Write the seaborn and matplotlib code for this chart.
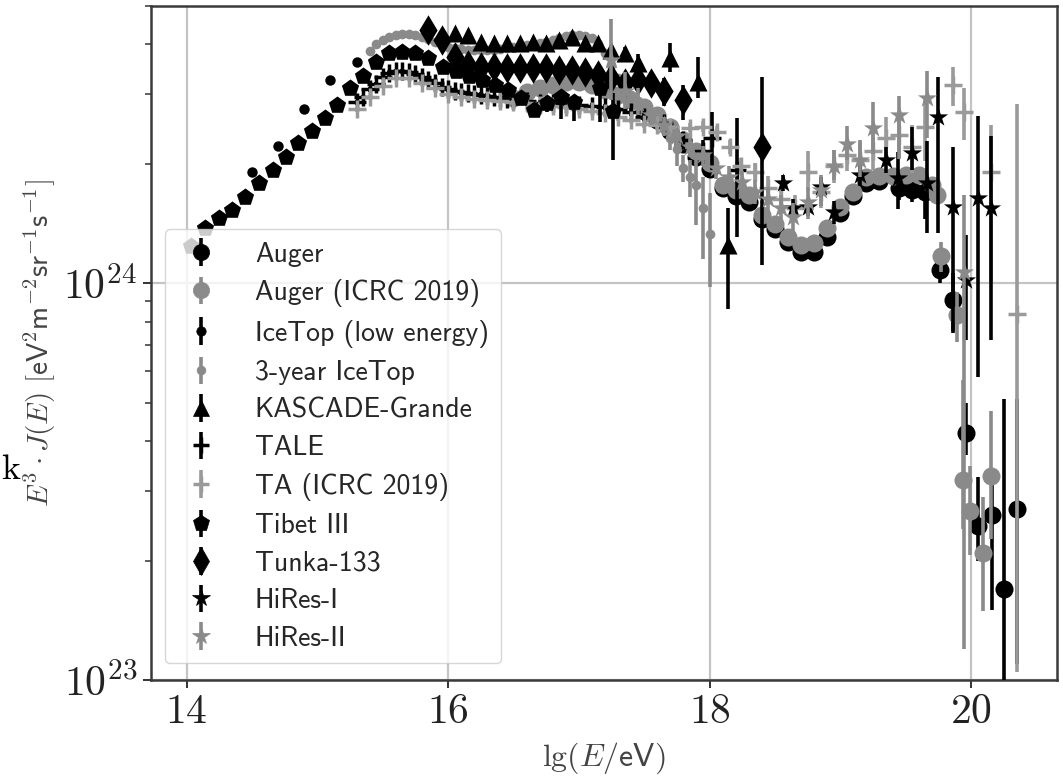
import numpy as np
import matplotlib
matplotlib.use("Agg")
import matplotlib.pyplot as plt
import seaborn as sns
import pandas as pd
from matplotlib.ticker import FixedLocator, FuncFormatter, NullFormatter, LogLocator

# ---------------- data (E^3 J in units of 1e24 eV^2 m^-2 sr^-1 s^-1) ----------------
auger_lg = [17.5, 17.6, 17.7, 17.8, 17.9, 18.0, 18.1, 18.2, 18.3, 18.4, 18.5, 18.6, 18.7, 18.8, 18.9,
            19.0, 19.1, 19.2, 19.3, 19.45, 19.55, 19.65, 19.76, 19.86, 19.96, 20.05, 20.16, 20.25, 20.35]
auger_val = [2.72, 2.58, 2.42, 2.24, 2.08, 1.94, 1.74, 1.66, 1.60, 1.45, 1.37, 1.27, 1.20, 1.20, 1.31,
             1.50, 1.66, 1.79, 1.81, 1.74, 1.72, 1.70, 1.08, 0.91, 0.42, 0.245, 0.26, 0.17, 0.27]
auger_lo = [0.04, 0.04, 0.04, 0.04, 0.04, 0.04, 0.04, 0.04, 0.04, 0.04, 0.04, 0.04, 0.04, 0.04, 0.04,
            0.05, 0.06, 0.07, 0.07, 0.12, 0.12, 0.25, 0.08, 0.16, 0.05, 0.045, 0.11, 0.10, 0.16]
auger_hi = [0.04, 0.04, 0.04, 0.04, 0.04, 0.04, 0.04, 0.04, 0.04, 0.04, 0.04, 0.04, 0.04, 0.04, 0.04,
            0.05, 0.06, 0.07, 0.07, 0.12, 0.12, 0.20, 0.10, 0.15, 0.08, 0.08, 0.05, 0.34, 0.24]

icrc_lg = [16.5, 16.6, 16.7, 16.8, 16.9, 17.0, 17.1, 17.2, 17.3, 17.4, 17.5, 17.6, 17.7, 17.8, 17.9,
           18.0, 18.1, 18.2, 18.3, 18.4, 18.5, 18.6, 18.7, 18.8, 18.9, 19.0, 19.1, 19.2, 19.3, 19.4,
           19.5, 19.6, 19.7, 19.74, 19.77, 19.89, 19.94, 19.99, 20.09, 20.15]
icrc_val = [2.93, 3.04, 3.11, 3.16, 3.22, 3.22, 3.16, 3.07, 2.99, 2.90, 2.79, 2.66, 2.48, 2.30, 2.15,
            2.01, 1.77, 1.72, 1.67, 1.49, 1.41, 1.31, 1.25, 1.26, 1.38, 1.56, 1.70, 1.85, 1.86, 1.86,
            1.88, 1.88, 1.77, 1.67, 1.17, 0.83, 0.32, 0.267, 0.209, 0.327]
icrc_lo = [0.03, 0.03, 0.03, 0.03, 0.03, 0.03, 0.03, 0.03, 0.03, 0.03, 0.03, 0.03, 0.03, 0.03, 0.03,
           0.03, 0.03, 0.03, 0.03, 0.03, 0.03, 0.03, 0.03, 0.03, 0.03, 0.03, 0.03, 0.04, 0.04, 0.04,
           0.05, 0.06, 0.07, 0.08, 0.10, 0.12, 0.08, 0.06, 0.06, 0.10]
icrc_hi = [0.03, 0.03, 0.03, 0.03, 0.03, 0.03, 0.03, 0.03, 0.03, 0.03, 0.03, 0.03, 0.03, 0.03, 0.03,
           0.03, 0.03, 0.03, 0.03, 0.03, 0.03, 0.03, 0.03, 0.03, 0.03, 0.03, 0.03, 0.04, 0.04, 0.04,
           0.05, 0.06, 0.07, 0.08, 0.10, 0.12, 0.25, 0.08, 0.08, 0.15]

icelow_lg = [14.5, 14.7, 14.9, 15.1, 15.3]
icelow_val = [1.91, 2.22, 2.75, 3.25, 3.61]
icelow_lo = [0.02, 0.02, 0.03, 0.03, 0.04]
icelow_hi = [0.02, 0.02, 0.03, 0.03, 0.04]

ice3_lg = [15.40, 15.45, 15.50, 15.55, 15.60, 15.65, 15.70, 15.75, 15.80, 15.85, 15.90, 15.95,
           16.00, 16.05, 16.10, 16.15, 16.20, 16.25, 16.30, 16.35, 16.40, 16.45, 16.50, 16.55,
           16.60, 16.65, 16.70, 16.75, 16.80, 16.85, 16.90, 16.95, 17.00, 17.05, 17.10, 17.15,
           17.20, 17.25, 17.30, 17.35, 17.40, 17.45, 17.50, 17.55, 17.60, 17.65, 17.70, 17.75,
           17.80, 17.85, 17.90, 17.95, 18.00]
ice3_val = [3.85, 4.00, 4.10, 4.18, 4.22, 4.25, 4.25, 4.22, 4.18, 4.12, 4.06, 4.00,
            3.95, 3.92, 3.90, 3.88, 3.88, 3.88, 3.88, 3.88, 3.90, 3.92, 3.94, 3.96,
            3.98, 4.00, 4.03, 4.06, 4.10, 4.15, 4.20, 4.22, 4.22, 4.20, 4.15, 4.02,
            3.80, 3.55, 3.30, 3.12, 2.98, 2.88, 2.78, 2.68, 2.58, 2.45, 2.32, 2.18,
            1.95, 1.85, 1.77, 1.55, 1.33]
ice3_lo = [0.03, 0.03, 0.03, 0.03, 0.03, 0.03, 0.03, 0.03, 0.03, 0.03, 0.03, 0.03,
           0.03, 0.03, 0.03, 0.03, 0.03, 0.03, 0.03, 0.03, 0.03, 0.03, 0.03, 0.03,
           0.03, 0.03, 0.03, 0.03, 0.03, 0.03, 0.04, 0.04, 0.04, 0.04, 0.05, 0.05,
           0.05, 0.05, 0.06, 0.06, 0.06, 0.07, 0.07, 0.08, 0.08, 0.10, 0.15, 0.20,
           0.15, 0.20, 0.37, 0.40, 0.35]
ice3_hi = [0.03, 0.03, 0.03, 0.03, 0.03, 0.03, 0.03, 0.03, 0.03, 0.03, 0.03, 0.03,
           0.03, 0.03, 0.03, 0.03, 0.03, 0.03, 0.03, 0.03, 0.03, 0.03, 0.03, 0.03,
           0.03, 0.03, 0.03, 0.03, 0.03, 0.03, 0.04, 0.04, 0.04, 0.04, 0.05, 0.05,
           0.05, 0.05, 0.06, 0.06, 0.06, 0.07, 0.07, 0.08, 0.08, 0.10, 0.15, 0.20,
           0.15, 0.20, 0.30, 0.30, 0.36]

kg_lg = [16.05, 16.15, 16.25, 16.35, 16.45, 16.55, 16.65, 16.75, 16.85, 16.95, 17.05, 17.15,
         17.25, 17.35, 17.45, 17.70, 17.91, 18.14]
kg_val = [4.27, 4.23, 4.06, 4.03, 4.03, 4.03, 4.06, 4.03, 4.10, 4.17, 4.03, 4.03,
          3.87, 3.80, 3.59, 3.69, 3.22, 1.25]
kg_lo = [0.05, 0.05, 0.05, 0.05, 0.05, 0.05, 0.05, 0.05, 0.06, 0.06, 0.08, 0.10,
         0.12, 0.15, 0.20, 0.28, 0.29, 0.39]
kg_hi = [0.05, 0.05, 0.05, 0.05, 0.05, 0.05, 0.05, 0.05, 0.06, 0.06, 0.08, 0.10,
         0.12, 0.15, 0.20, 0.34, 0.50, 0.30]

tale_lg = [15.30, 15.35, 15.40, 15.45, 15.50, 15.55, 15.60, 15.65, 15.70, 15.75, 15.80, 15.85,
           15.90, 15.95, 16.00, 16.05, 16.10, 16.15, 16.20, 16.25, 16.30, 16.35, 16.40, 16.45,
           16.50, 16.60, 16.70, 16.80, 16.90, 17.00, 17.10, 17.20, 17.30, 17.40, 17.50, 17.65,
           17.80, 17.95, 18.02, 18.21]
tale_val = [2.86, 2.95, 3.08, 3.18, 3.31, 3.38, 3.42, 3.42, 3.40, 3.36, 3.31, 3.25,
            3.20, 3.12, 3.08, 3.05, 3.03, 3.02, 3.00, 2.99, 2.97, 2.95, 2.93, 2.92,
            2.90, 2.88, 2.85, 2.85, 2.83, 2.82, 2.80, 2.78, 2.75, 2.70, 2.62, 2.54,
            2.30, 2.15, 2.33, 1.93]
tale_lo = [0.04, 0.04, 0.04, 0.04, 0.04, 0.04, 0.04, 0.04, 0.04, 0.04, 0.04, 0.04,
           0.04, 0.04, 0.04, 0.04, 0.04, 0.04, 0.04, 0.04, 0.04, 0.04, 0.04, 0.04,
           0.04, 0.04, 0.04, 0.04, 0.04, 0.05, 0.05, 0.05, 0.05, 0.06, 0.06, 0.07,
           0.10, 0.15, 0.40, 0.62]
tale_hi = [0.04, 0.04, 0.04, 0.04, 0.04, 0.04, 0.04, 0.04, 0.04, 0.04, 0.04, 0.04,
           0.04, 0.04, 0.04, 0.04, 0.04, 0.04, 0.04, 0.04, 0.04, 0.04, 0.04, 0.04,
           0.04, 0.04, 0.04, 0.04, 0.04, 0.05, 0.05, 0.05, 0.05, 0.06, 0.06, 0.07,
           0.10, 0.15, 0.37, 0.68]

ta_lg = [15.3, 15.4, 15.5, 15.6, 15.7, 15.8, 15.9, 16.0, 16.1, 16.2, 16.3, 16.4, 16.5, 16.6,
         16.7, 16.8, 16.9, 17.0, 17.1, 17.2, 17.3, 17.4, 17.5, 17.6, 17.7, 17.85, 17.95, 18.06,
         18.16, 18.24, 18.35, 18.45, 18.55, 18.65, 18.75, 18.85, 18.95, 19.05, 19.15, 19.25,
         19.35, 19.45, 19.55, 19.65, 19.86, 19.95, 20.15, 20.35]
ta_val = [2.75, 2.95, 3.15, 3.30, 3.30, 3.20, 3.10, 3.00, 2.95, 2.92, 2.90, 2.88, 2.86, 2.84,
          2.82, 2.80, 2.78, 2.75, 2.72, 2.68, 2.62, 2.58, 2.52, 2.50, 2.48, 2.47, 2.48, 2.41,
          2.21, 1.97, 1.91, 1.74, 1.63, 1.55, 1.91, 1.70, 1.97, 2.10, 2.05, 2.15,
          2.33, 2.37, 2.20, 2.48, 3.16, 2.70, 1.91, 0.835]
ta_lo = [0.04, 0.04, 0.04, 0.04, 0.04, 0.04, 0.04, 0.04, 0.04, 0.04, 0.04, 0.04, 0.04, 0.04,
         0.04, 0.04, 0.04, 0.04, 0.05, 0.05, 0.05, 0.05, 0.05, 0.06, 0.06, 0.07, 0.08, 0.08,
         0.09, 0.10, 0.10, 0.12, 0.12, 0.12, 0.20, 0.15, 0.18, 0.18, 0.20, 0.22,
         0.25, 0.30, 0.30, 0.45, 0.36, 0.40, 0.90, 0.73]
ta_hi = [0.04, 0.04, 0.04, 0.04, 0.04, 0.04, 0.04, 0.04, 0.04, 0.04, 0.04, 0.04, 0.04, 0.04,
         0.04, 0.04, 0.04, 0.04, 0.05, 0.05, 0.05, 0.05, 0.05, 0.06, 0.06, 0.07, 0.08, 0.08,
         0.09, 0.10, 0.10, 0.12, 0.12, 0.12, 0.25, 0.15, 0.20, 0.20, 0.22, 0.25,
         0.30, 0.30, 0.30, 0.45, 0.34, 0.40, 0.60, 2.00]

tibet_lg = [14.03, 14.14, 14.25, 14.35, 14.45, 14.55, 14.66, 14.76, 14.85, 14.96, 15.06, 15.15,
            15.25, 15.35, 15.45, 15.55, 15.65, 15.75, 15.85, 15.96, 16.06, 16.16, 16.26, 16.36,
            16.46, 16.56, 16.66, 16.76, 16.86, 16.96, 17.16, 17.26]
tibet_val = [1.24, 1.38, 1.46, 1.53, 1.65, 1.79, 1.93, 2.08, 2.26, 2.42, 2.61, 2.82,
             3.11, 3.33, 3.61, 3.81, 3.83, 3.81, 3.70, 3.51, 3.43, 3.33, 3.25, 3.16,
             3.07, 2.93, 2.74, 2.85, 2.95, 2.87, 3.10, 2.72]
tibet_lo = [0.02, 0.02, 0.02, 0.02, 0.02, 0.02, 0.02, 0.02, 0.02, 0.02, 0.03, 0.03,
            0.03, 0.03, 0.03, 0.03, 0.03, 0.03, 0.03, 0.04, 0.04, 0.04, 0.05, 0.05,
            0.06, 0.08, 0.10, 0.15, 0.35, 0.30, 0.55, 0.67]
tibet_hi = [0.02, 0.02, 0.02, 0.02, 0.02, 0.02, 0.02, 0.02, 0.02, 0.02, 0.03, 0.03,
            0.03, 0.03, 0.03, 0.03, 0.03, 0.03, 0.03, 0.04, 0.04, 0.04, 0.05, 0.05,
            0.06, 0.08, 0.10, 0.10, 0.10, 0.10, 0.15, 0.30]

tunka_lg = [15.85, 15.95, 16.05, 16.15, 16.25, 16.35, 16.45, 16.55, 16.65, 16.75, 16.85, 16.95,
            17.05, 17.15, 17.25, 17.35, 17.45, 17.55, 17.65, 17.80, 18.40]
tunka_val = [4.35, 4.10, 3.72, 3.55, 3.51, 3.51, 3.49, 3.49, 3.49, 3.49, 3.45, 3.45,
             3.40, 3.35, 3.30, 3.20, 3.25, 3.20, 3.05, 2.90, 2.21]
tunka_lo = [0.05, 0.05, 0.05, 0.05, 0.05, 0.05, 0.05, 0.05, 0.05, 0.05, 0.06, 0.06,
            0.08, 0.10, 0.12, 0.15, 0.18, 0.20, 0.25, 0.32, 1.10]
tunka_hi = [0.05, 0.05, 0.05, 0.05, 0.05, 0.05, 0.05, 0.05, 0.05, 0.05, 0.06, 0.06,
            0.08, 0.10, 0.12, 0.15, 0.18, 0.20, 0.25, 0.26, 1.10]

h1_lg = [18.56, 18.64, 18.75, 18.85, 18.95, 19.15, 19.35, 19.44, 19.55, 19.66, 19.75, 19.86,
         19.96, 20.05, 20.15]
h1_val = [1.79, 1.55, 1.56, 1.75, 1.51, 1.88, 2.05, 1.84, 2.13, 1.79, 2.62, 1.56,
          1.02, 1.64, 1.55]
h1_lo = [0.08, 0.08, 0.08, 0.10, 0.10, 0.12, 0.15, 0.30, 0.20, 0.45, 1.28, 0.80,
         0.30, 1.06, 0.83]
h1_hi = [0.08, 0.08, 0.08, 0.10, 0.10, 0.12, 0.15, 0.30, 0.35, 0.50, 0.70, 0.65,
         0.30, 1.00, 0.80]

h2_lg = [17.25, 17.35, 17.45, 17.55, 17.65, 17.75, 17.85, 17.95, 18.05, 18.15, 18.25, 18.35,
         18.45, 18.55, 18.64, 18.75, 18.85, 18.95, 19.05, 19.15, 19.25, 19.45, 19.66, 19.95]
h2_val = [3.65, 3.05, 2.85, 2.65, 2.50, 2.35, 2.20, 2.10, 1.95, 1.85, 1.80, 1.70,
          1.63, 1.55, 1.47, 1.60, 1.72, 1.97, 2.24, 2.05, 2.47, 2.66, 2.93, 1.07]
h2_lo = [0.75, 0.30, 0.20, 0.15, 0.12, 0.12, 0.12, 0.12, 0.12, 0.12, 0.12, 0.12,
         0.12, 0.12, 0.12, 0.15, 0.15, 0.15, 0.20, 0.20, 0.35, 0.60, 0.60, 0.95]
h2_hi = [1.00, 0.35, 0.25, 0.15, 0.12, 0.12, 0.12, 0.12, 0.12, 0.12, 0.12, 0.12,
         0.12, 0.12, 0.12, 0.15, 0.15, 0.20, 0.25, 0.25, 0.40, 0.30, 0.50, 0.60]

x_ticks = [14, 16, 18, 20]
y_ticks = [1e23, 1e24]
UNIT = 1e24

# ---------------- style ----------------
sns.set_theme(style="ticks")
plt.rcParams["mathtext.fontset"] = "cm"
plt.rcParams["font.family"] = ["cmss10", "DejaVu Sans"]
plt.rcParams["axes.unicode_minus"] = False
plt.rcParams["axes.formatter.use_mathtext"] = True

BLACK = "#000000"
GRAY = "#8a8a8a"
LGRAY = "#9a9a9a"

fig = plt.figure(figsize=(10.63, 7.80), dpi=100)
ax = fig.add_axes([0.142, 0.1282, 0.852, 0.8641])

series = [
    ("Auger", auger_lg, auger_val, auger_lo, auger_hi, "o", BLACK, 13, 0),
    ("Auger (ICRC 2019)", icrc_lg, icrc_val, icrc_lo, icrc_hi, "o", GRAY, 13, 0),
    ("IceTop (low energy)", icelow_lg, icelow_val, icelow_lo, icelow_hi, "o", BLACK, 7.5, 0),
    ("3-year IceTop", ice3_lg, ice3_val, ice3_lo, ice3_hi, "o", GRAY, 7, 0),
    ("KASCADE-Grande", kg_lg, kg_val, kg_lo, kg_hi, "^", BLACK, 13, 0),
    ("TALE", tale_lg, tale_val, tale_lo, tale_hi, "+", BLACK, 12.5, 2.5),
    ("TA (ICRC 2019)", ta_lg, ta_val, ta_lo, ta_hi, "+", LGRAY, 12.5, 2.5),
    ("Tibet III", tibet_lg, tibet_val, tibet_lo, tibet_hi, "p", BLACK, 13, 0),
    ("Tunka-133", tunka_lg, tunka_val, tunka_lo, tunka_hi, "d", BLACK, 15.5, 0),
    ("HiRes-I", h1_lg, h1_val, h1_lo, h1_hi, "*", BLACK, 14.5, 0),
    ("HiRes-II", h2_lg, h2_val, h2_lo, h2_hi, "*", GRAY, 14.5, 0),
]

handles = []
for i, (label, lg, val, lo, hi, mk, col, ms, mew) in enumerate(series):
    z = 3 + i * 0.1
    df = pd.DataFrame({"lgE": lg, "flux": np.array(val) * UNIT})
    yerr = np.vstack([np.array(lo), np.array(hi)]) * UNIT
    ax.errorbar(df["lgE"], df["flux"], yerr=yerr, fmt="none", ecolor=col,
                elinewidth=2.6, capsize=0, zorder=z)
    if mk == "+":
        sns.scatterplot(data=df, x="lgE", y="flux", marker=mk, color=col, s=ms ** 2,
                        linewidth=mew, ax=ax, zorder=z + 0.05, legend=False)
    else:
        sns.scatterplot(data=df, x="lgE", y="flux", marker=mk, color=col, s=ms ** 2,
                        linewidth=0, edgecolor=col, ax=ax, zorder=z + 0.05, legend=False)
    h = ax.errorbar([np.nan], [np.nan], yerr=[[np.nan], [np.nan]], fmt=mk, color=col,
                    ms=ms * 0.9, mew=(mew if mew else 0.5), elinewidth=2.6, capsize=0, label=label)
    handles.append(h)

ax.set_yscale("log")
ax.set_xlim(13.727, 20.655)
ax.set_ylim(1e23, 5.0e24)

ax.xaxis.set_major_locator(FixedLocator(x_ticks))
ax.xaxis.set_major_formatter(FuncFormatter(lambda v, p: r"$%d$" % round(v)))
ax.yaxis.set_major_locator(FixedLocator(y_ticks))
ax.yaxis.set_major_formatter(FuncFormatter(lambda v, p: r"$10^{%d}$" % round(np.log10(v))))
ax.yaxis.set_minor_locator(LogLocator(base=10, subs=np.arange(2, 10)))
ax.yaxis.set_minor_formatter(NullFormatter())

ax.tick_params(axis="both", which="major", labelsize=30, length=6, width=1.4,
               colors="#333333", labelcolor="#222222", direction="out", left=True, bottom=True,
               pad=4)
ax.tick_params(axis="y", which="minor", length=4, width=1.1, colors="#333333", left=True)
ax.grid(True, which="major", color="#c4c4c4", linewidth=1.6)
ax.set_axisbelow(True)
for s in ax.spines.values():
    s.set_visible(True)
    s.set_color("#3a3a3a")
    s.set_linewidth(1.8)

ax.set_xlabel(r"$\mathrm{lg}(E/\mathsf{eV})$", fontsize=23, color="#444444", labelpad=7)
ax.set_ylabel(r"$E^3\cdot J(E)\ [\mathsf{eV}^2\mathsf{m}^{-2}\mathsf{sr}^{-1}\mathsf{s}^{-1}]$",
              fontsize=21, color="#444444", labelpad=4)

leg = ax.legend(handles=handles, loc="lower left", bbox_to_anchor=(0.015, 0.025),
                borderaxespad=0, fontsize=20, frameon=True, framealpha=0.8,
                edgecolor="#cccccc", fancybox=True, labelspacing=0.45,
                handlelength=1.7, handletextpad=1.1, borderpad=0.45)
leg.set_zorder(20)

fig.text(0.001, 0.397, "k", fontsize=26, family="cmr10", color="black", va="center", ha="left")

fig.savefig("out.png", dpi=100)
